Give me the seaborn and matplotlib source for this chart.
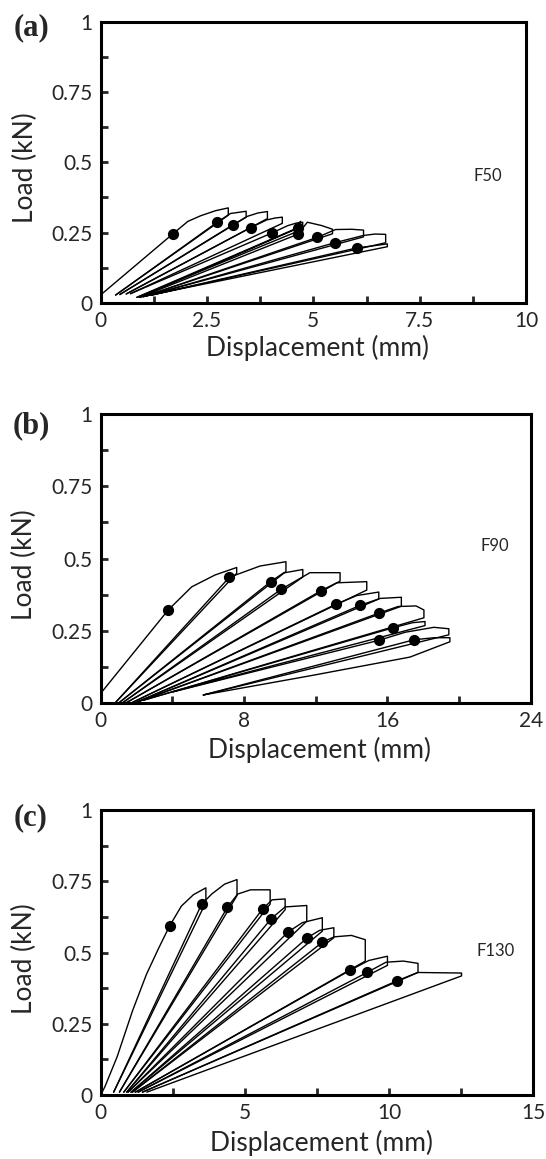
import numpy as np
import pandas as pd
import matplotlib
matplotlib.use('Agg')
import matplotlib.pyplot as plt
import seaborn as sns
from matplotlib.ticker import MultipleLocator, FuncFormatter

# ---- panel (a) F50 : loading path of each cycle, hold drop, unloading path
a_up_x = [[0.05, 1.70, 2.05, 2.35, 2.70, 3.00],
          [0.35, 2.74, 3.05, 3.42],
          [0.45, 3.11, 3.45, 3.70, 3.92],
          [0.60, 3.53, 3.90, 4.10, 4.27],
          [0.70, 4.03, 4.40, 4.60, 4.75],
          [0.85, 4.63, 4.66, 4.70],
          [0.92, 4.63, 4.86, 5.20, 5.45],
          [1.00, 5.09, 5.52, 5.90, 6.18],
          [1.08, 5.50, 6.18, 6.45, 6.70],
          [1.20, 6.03, 6.40, 6.74]]
a_up_y = [[0.035, 0.246, 0.290, 0.310, 0.328, 0.338],
          [0.028, 0.287, 0.318, 0.326],
          [0.030, 0.278, 0.308, 0.320, 0.325],
          [0.032, 0.268, 0.295, 0.302, 0.305],
          [0.033, 0.249, 0.275, 0.284, 0.287],
          [0.020, 0.267, 0.285, 0.290],
          [0.020, 0.244, 0.287, 0.275, 0.262],
          [0.022, 0.233, 0.261, 0.262, 0.259],
          [0.025, 0.214, 0.240, 0.245, 0.244],
          [0.028, 0.196, 0.203, 0.210]]
a_drop_y = [0.312, 0.305, 0.300, 0.283, 0.262, 0.270, 0.246, 0.235, 0.214, 0.200]
a_back_x = [[0.35], [0.45], [0.60], [0.70], [0.85], [0.92], [1.00], [1.08], [1.20], [0.90]]
a_back_y = [[0.028], [0.030], [0.032], [0.033], [0.020], [0.020], [0.022], [0.025], [0.028], [0.020]]
a_dot_x = [1.70, 2.74, 3.11, 3.53, 4.03, 4.63, 4.63, 5.09, 5.50, 6.03]
a_dot_y = [0.246, 0.287, 0.278, 0.268, 0.249, 0.267, 0.244, 0.233, 0.214, 0.196]

# ---- panel (b) F90
b_up_x = [[0.02, 3.77, 5.08, 6.38, 7.59],
          [0.80, 7.18, 8.89, 10.34],
          [1.00, 9.49, 10.20, 11.28],
          [1.20, 10.06, 11.68, 13.36],
          [1.40, 12.28, 13.17, 14.85],
          [1.70, 13.13, 14.30, 15.52],
          [1.90, 14.48, 15.60, 16.78],
          [2.10, 15.52, 16.60, 17.60, 18.04],
          [2.40, 16.30, 17.40, 18.10],
          [4.05, 15.52, 17.00, 18.60, 19.43],
          [5.73, 17.50, 18.60, 19.49]]
b_up_y = [[0.035, 0.322, 0.402, 0.443, 0.469],
          [0.000, 0.435, 0.474, 0.489],
          [0.000, 0.420, 0.450, 0.462],
          [0.000, 0.393, 0.451, 0.451],
          [0.000, 0.388, 0.416, 0.420],
          [0.000, 0.342, 0.372, 0.384],
          [0.000, 0.338, 0.362, 0.366],
          [0.005, 0.311, 0.334, 0.336, 0.322],
          [0.010, 0.260, 0.278, 0.282],
          [0.039, 0.217, 0.245, 0.262, 0.257],
          [0.028, 0.219, 0.226, 0.226]]
b_drop_y = [0.449, 0.455, 0.436, 0.422, 0.391, 0.360, 0.335, 0.295, 0.268, 0.236, 0.212]
b_back_x = [[0.80], [1.00], [1.20], [1.40], [1.70], [1.90], [2.10], [2.40], [4.05], [5.73],
            [17.26, 11.84, 5.73]]
b_back_y = [[0.0], [0.0], [0.0], [0.0], [0.0], [0.0], [0.005], [0.010], [0.039], [0.028],
            [0.159, 0.096, 0.028]]
b_dot_x = [3.77, 7.18, 9.49, 10.06, 12.28, 13.13, 14.48, 15.52, 16.30, 15.52, 17.50]
b_dot_y = [0.322, 0.435, 0.420, 0.393, 0.388, 0.342, 0.338, 0.311, 0.260, 0.217, 0.219]

# ---- panel (c) F130
c_up_x = [[0.00, 0.15, 0.57, 1.11, 1.59, 2.02, 2.39, 2.80, 3.22, 3.65],
          [0.45, 3.50, 3.85, 4.30, 4.73],
          [0.65, 4.40, 4.75, 5.20, 5.88],
          [0.80, 5.62, 5.95, 6.40],
          [0.90, 5.92, 6.40, 7.15],
          [0.95, 6.50, 7.00, 7.69],
          [1.05, 7.17, 7.60, 8.09],
          [1.10, 7.69, 8.10, 8.70, 9.18],
          [1.20, 8.66, 9.30, 9.95],
          [1.30, 9.24, 9.90, 10.50, 11.01],
          [1.45, 10.29, 11.00, 12.52]]
c_up_y = [[0.00, 0.03, 0.134, 0.297, 0.424, 0.517, 0.593, 0.663, 0.703, 0.727],
          [0.01, 0.669, 0.705, 0.740, 0.756],
          [0.01, 0.659, 0.705, 0.720, 0.720],
          [0.01, 0.653, 0.685, 0.688],
          [0.01, 0.619, 0.660, 0.665],
          [0.01, 0.572, 0.605, 0.622],
          [0.01, 0.552, 0.578, 0.587],
          [0.01, 0.536, 0.555, 0.560, 0.545],
          [0.01, 0.438, 0.472, 0.487],
          [0.01, 0.430, 0.466, 0.470, 0.462],
          [0.01, 0.401, 0.430, 0.428]]
c_drop_y = [0.676, 0.700, 0.670, 0.650, 0.610, 0.575, 0.552, 0.470, 0.455, 0.430, 0.418]
c_back_x = [[0.45], [0.65], [0.80], [0.90], [0.95], [1.05], [1.10], [1.20], [1.30], [1.45], [1.60]]
c_back_y = [[0.01], [0.01], [0.01], [0.01], [0.01], [0.01], [0.01], [0.01], [0.01], [0.01], [0.01]]
c_dot_x = [2.39, 3.50, 4.40, 5.62, 5.92, 6.50, 7.17, 7.69, 8.66, 9.24, 10.29]
c_dot_y = [0.593, 0.669, 0.659, 0.653, 0.619, 0.572, 0.552, 0.536, 0.438, 0.430, 0.401]

panel_tags = ['(a)', '(b)', '(c)']
panel_names = ['F50', 'F90', 'F130']
x_max = [10, 24, 15]
x_step = [2.5, 8, 5]


def loops_frame(up_x, up_y, drop_y, back_x, back_y):
    rows = []
    for i in range(len(up_x)):
        xs = list(up_x[i]) + [up_x[i][-1]] + list(back_x[i])
        ys = list(up_y[i]) + [drop_y[i]] + list(back_y[i])
        for k, (xx, yy) in enumerate(zip(xs, ys)):
            rows.append((i, k, xx, yy))
    return pd.DataFrame(rows, columns=['loop', 'k', 'x', 'y'])


frames = [loops_frame(a_up_x, a_up_y, a_drop_y, a_back_x, a_back_y),
          loops_frame(b_up_x, b_up_y, b_drop_y, b_back_x, b_back_y),
          loops_frame(c_up_x, c_up_y, c_drop_y, c_back_x, c_back_y)]
dots = [pd.DataFrame({'x': a_dot_x, 'y': a_dot_y}),
        pd.DataFrame({'x': b_dot_x, 'y': b_dot_y}),
        pd.DataFrame({'x': c_dot_x, 'y': c_dot_y})]

sns.set_style('white')
plt.rcParams['font.family'] = ['Lato', 'DejaVu Sans']

fig = plt.figure(figsize=(5.46, 11.59), dpi=100)
positions = [[0.1844, 0.7386, 0.779, 0.2427],
             [0.1844, 0.3934, 0.7876, 0.2494],
             [0.1844, 0.0552, 0.7918, 0.2459]]
name_pos = [(9.11, 0.453), (21.99, 0.545), (13.71, 0.506)]
tag_y = [0.978, 0.960, 0.974]

for p in range(3):
    ax = fig.add_axes(positions[p])
    sns.lineplot(data=frames[p], x='x', y='y', units='loop', estimator=None,
                 sort=False, color='black', lw=1.0, ax=ax, legend=False)
    sns.scatterplot(data=dots[p], x='x', y='y', color='black', s=65,
                    edgecolor='black', linewidth=0, ax=ax, legend=False, zorder=3)
    ax.set_xlim(0, x_max[p])
    ax.set_ylim(0, 1)
    ax.xaxis.set_major_locator(MultipleLocator(x_step[p]))
    ax.xaxis.set_minor_locator(MultipleLocator(x_step[p] / 2))
    ax.yaxis.set_major_locator(MultipleLocator(0.25))
    ax.yaxis.set_minor_locator(MultipleLocator(0.125))
    fmt = FuncFormatter(lambda v, pos: f'{v:g}')
    ax.xaxis.set_major_formatter(fmt)
    ax.yaxis.set_major_formatter(fmt)
    ax.tick_params(which='both', direction='in', width=2, length=5,
                   bottom=True, left=True, top=False, right=False)
    ax.tick_params(which='major', labelsize=15, pad=6)
    for s in ax.spines.values():
        s.set_linewidth(2.2)
        s.set_color('black')
    ax.set_xlabel('Displacement (mm)', fontsize=19)
    ax.set_ylabel('Load (kN)', fontsize=19, va='center')
    ax.xaxis.set_label_coords(0.51, -0.112 - 0.005 * p)
    ax.yaxis.set_label_coords(-0.177, 0.48)
    ax.text(name_pos[p][0], name_pos[p][1], panel_names[p], fontsize=12,
            ha='center', va='center')
    ax.text(-0.162, tag_y[p], panel_tags[p], transform=ax.transAxes,
            fontsize=22, fontweight='bold', family='Liberation Serif',
            ha='center', va='center')

fig.savefig('out.png', dpi=100)
